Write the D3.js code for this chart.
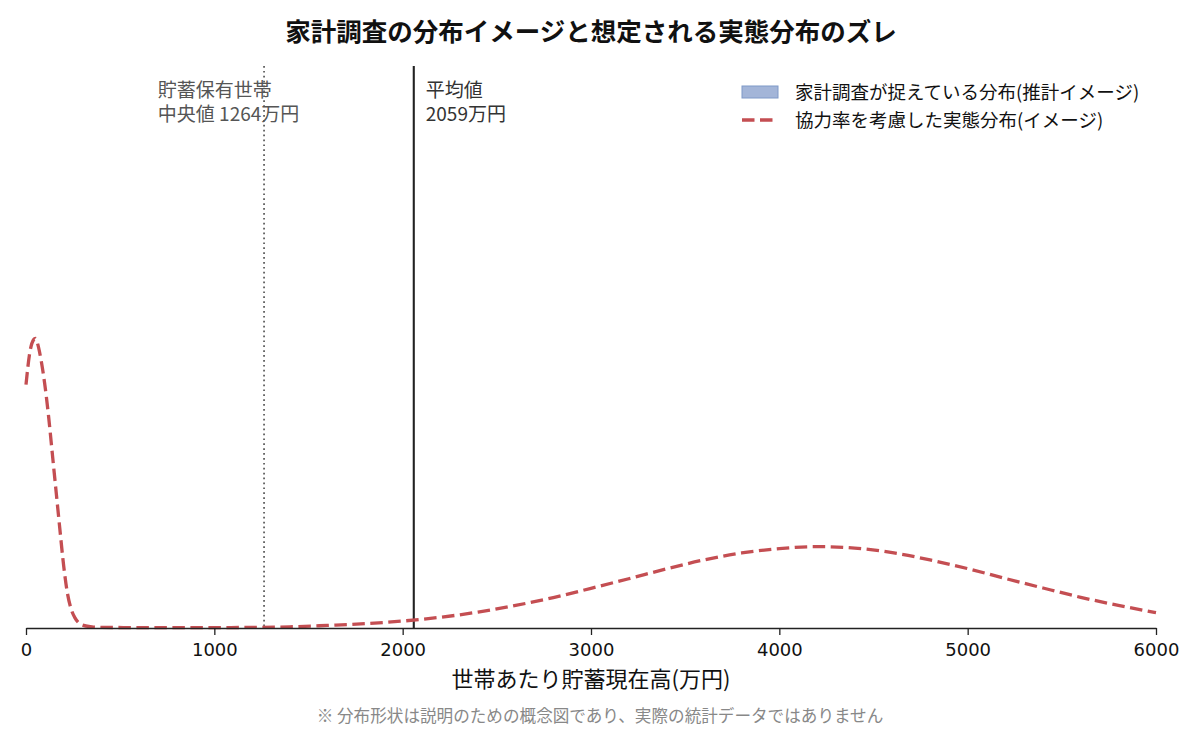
<!DOCTYPE html>
<html>
<head>
<meta charset="utf-8">
<script src="https://cdn.jsdelivr.net/npm/d3@7"></script>
<style>
  body { margin: 0; background: #fff; }
  text { font-family: "Noto Sans CJK JP", "Noto Sans", sans-serif; }
  .tick text { font-family: "DejaVu Sans", sans-serif; }
</style>
</head>
<body>
<div id="chart"></div>
<script>
// x: 万円, y: relative density
const amounts = [0, 20, 40, 50, 60, 80, 100, 120, 140, 160, 180, 200, 220, 240, 260, 280, 300, 350, 400,
  600, 800, 1000, 1200, 1400, 1600, 1800, 2000, 2200, 2400, 2600, 2800, 3000, 3200, 3400, 3600, 3800,
  4000, 4200, 4400, 4600, 4800, 5000, 5200, 5400, 5600, 5800, 6000];
const actualDensity = [0.84, 0.95, 0.995, 1.00, 0.985, 0.925, 0.84, 0.73, 0.60, 0.47, 0.34, 0.215, 0.12, 0.065, 0.035, 0.018, 0.010, 0.004, 0.002,
  0.0015, 0.0015, 0.0015, 0.002, 0.004, 0.009, 0.015, 0.024, 0.037, 0.055, 0.078, 0.105, 0.137, 0.170, 0.204, 0.235, 0.259,
  0.274, 0.281, 0.276, 0.260, 0.235, 0.205, 0.171, 0.138, 0.106, 0.078, 0.053];
const xTicks = [0, 1000, 2000, 3000, 4000, 5000, 6000];
const medianValue = 1264;
const meanValue = 2059;
const medianLines = ['貯蓄保有世帯', '中央値 1264万円'];
const meanLines = ['平均値', '2059万円'];
const legendLabels = ['家計調査が捉えている分布(推計イメージ)', '協力率を考慮した実態分布(イメージ)'];

const width = 1200, height = 733;
const margin = { top: 66, right: 44, bottom: 105, left: 26 };

const svg = d3.select('#chart')
  .append('svg')
  .attr('width', width)
  .attr('height', height);

const x = d3.scaleLinear()
  .domain([0, 6000])
  .range([margin.left, width - margin.right]);

const y = d3.scaleLinear()
  .domain([0, 1.94])
  .range([height - margin.bottom, margin.top]);

// title
svg.append('text')
  .attr('x', 591)
  .attr('y', 41)
  .attr('text-anchor', 'middle')
  .attr('font-size', 25.5)
  .attr('font-weight', 'bold')
  .attr('fill', '#111')
  .text('家計調査の分布イメージと想定される実態分布のズレ');

// reference lines
svg.append('line')
  .attr('x1', x(medianValue)).attr('x2', x(medianValue))
  .attr('y1', margin.top).attr('y2', height - margin.bottom)
  .attr('stroke', '#555')
  .attr('stroke-width', 1.7)
  .attr('stroke-dasharray', '1.7 3.2');

svg.append('line')
  .attr('x1', x(meanValue)).attr('x2', x(meanValue))
  .attr('y1', margin.top).attr('y2', height - margin.bottom)
  .attr('stroke', '#222')
  .attr('stroke-width', 2.1);

// labels for the lines
svg.selectAll('.med-label')
  .data(medianLines)
  .enter()
  .append('text')
  .attr('class', 'med-label')
  .attr('x', x(700))
  .attr('y', (d, i) => 97 + i * 24)
  .attr('font-size', 19)
  .attr('fill', '#555')
  .text(d => d);

svg.selectAll('.mean-label')
  .data(meanLines)
  .enter()
  .append('text')
  .attr('class', 'mean-label')
  .attr('x', x(meanValue) + 12)
  .attr('y', (d, i) => 97 + i * 24)
  .attr('font-size', 19)
  .attr('fill', '#333')
  .text(d => d);

// actual distribution curve
const line = d3.line()
  .x((d, i) => x(amounts[i]))
  .y(d => y(d))
  .curve(d3.curveMonotoneX);

svg.append('path')
  .datum(actualDensity)
  .attr('d', line)
  .attr('fill', 'none')
  .attr('stroke', '#c44e52')
  .attr('stroke-width', 3.3)
  .attr('stroke-dasharray', '12.5 5.5');

// x axis
const xAxis = svg.append('g')
  .attr('transform', `translate(0,${height - margin.bottom})`)
  .call(d3.axisBottom(x).tickValues(xTicks).tickFormat(d3.format('d'))
    .tickSize(7).tickPadding(8).tickSizeOuter(0));

xAxis.select('.domain').attr('stroke', '#222').attr('stroke-width', 1.3);
xAxis.selectAll('.tick line').attr('stroke', '#222').attr('stroke-width', 1.3);
xAxis.selectAll('.tick text').attr('font-size', 18).attr('fill', '#111');

svg.append('text')
  .attr('x', 591)
  .attr('y', 687)
  .attr('text-anchor', 'middle')
  .attr('font-size', 22)
  .attr('fill', '#111')
  .text('世帯あたり貯蓄現在高(万円)');

// footnote
svg.append('text')
  .attr('x', 600)
  .attr('y', 722)
  .attr('text-anchor', 'middle')
  .attr('font-size', 16.6)
  .attr('fill', '#888')
  .text('※ 分布形状は説明のための概念図であり、実際の統計データではありません');

// legend
const legend = svg.append('g').attr('transform', 'translate(742,92)');

legend.append('rect')
  .attr('x', 0).attr('y', -6)
  .attr('width', 36).attr('height', 12)
  .attr('fill', '#a3b5d8')
  .attr('stroke', '#7f99c8')
  .attr('stroke-width', 1);

legend.append('line')
  .attr('x1', 0).attr('x2', 36)
  .attr('y1', 28).attr('y2', 28)
  .attr('stroke', '#c44e52')
  .attr('stroke-width', 3.3)
  .attr('stroke-dasharray', '12.5 5.5');

legend.selectAll('.legend-label')
  .data(legendLabels)
  .enter()
  .append('text')
  .attr('class', 'legend-label')
  .attr('x', 53)
  .attr('y', (d, i) => i * 28 + 6.5)
  .attr('font-size', 18.5)
  .attr('fill', '#111')
  .text(d => d);
</script>
</body>
</html>
